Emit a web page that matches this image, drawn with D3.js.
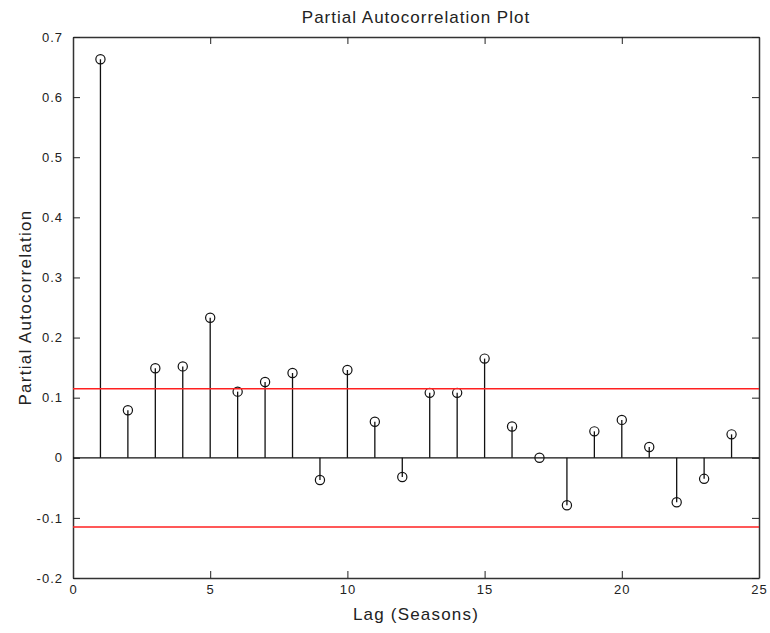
<!DOCTYPE html>
<html>
<head>
<meta charset="utf-8">
<script src="https://cdn.jsdelivr.net/npm/d3@7"></script>
<style>
	body { margin: 0; background: #fff; }
	text { font-family: "Liberation Sans", Arial, sans-serif; fill: #222; }
</style>
</head>
<body>
<svg id="svg" width="770" height="633"></svg>
<script>
"use strict";

// lags and partial autocorrelation values
const lags = d3.range(1, 25);
const pacf = [
	0.663, 0.079, 0.149, 0.152, 0.233, 0.110, 0.126, 0.141,
	-0.037, 0.146, 0.060, -0.032, 0.108, 0.108, 0.165, 0.052,
	0.000, -0.079, 0.044, 0.063, 0.018, -0.074, -0.035, 0.039
];
// confidence bounds (red lines)
const bounds = [0.115, -0.115];
const xTicks = [0, 5, 10, 15, 20, 25];
const yTicks = [-0.2, -0.1, 0, 0.1, 0.2, 0.3, 0.4, 0.5, 0.6, 0.7];

const margin = { left: 73, right: 11, top: 37, bottom: 55 };
const width = 770 - margin.left - margin.right;
const height = 633 - margin.top - margin.bottom;

const svg = d3.select("#svg");
const g = svg.append("g")
	.attr("transform", `translate(${margin.left},${margin.top})`);

const x = d3.scaleLinear().domain([0, 25]).range([0, width]);
const y = d3.scaleLinear().domain([-0.2, 0.7]).range([height, 0]);

const yFmt = (d) => (Math.abs(d) < 1e-9 ? "0" : d.toFixed(1));

// axes with inward ticks, box on all four sides
const styleAxis = (sel) => {
	sel.selectAll(".domain").attr("stroke", "#333").attr("stroke-width", 1.5);
	sel.selectAll(".tick line").attr("stroke", "#222");
	sel.selectAll("text").attr("fill", "#222").style("font-size", "13px")
		.style("letter-spacing", "1px")
		.style("font-family", "'Liberation Sans', Arial, sans-serif");
};

g.append("g")
	.attr("transform", `translate(0,${height})`)
	.call(d3.axisBottom(x).tickValues(xTicks).tickSize(-7).tickSizeOuter(0).tickPadding(7))
	.call(styleAxis);
g.append("g")
	.call(d3.axisTop(x).tickValues(xTicks).tickSize(-7).tickSizeOuter(0).tickFormat(""))
	.call(styleAxis);
g.append("g")
	.call(d3.axisLeft(y).tickValues(yTicks).tickSize(-7).tickSizeOuter(0).tickPadding(10).tickFormat(yFmt))
	.call(styleAxis);
g.append("g")
	.attr("transform", `translate(${width},0)`)
	.call(d3.axisRight(y).tickValues(yTicks).tickSize(-7).tickSizeOuter(0).tickFormat(""))
	.call(styleAxis);

// zero line
g.append("line")
	.attr("x1", 0).attr("x2", width)
	.attr("y1", y(0)).attr("y2", y(0))
	.attr("stroke", "#111").attr("stroke-width", 1.2);

// stems
g.selectAll(".stem")
	.data(lags)
	.enter()
	.append("line")
	.attr("class", "stem")
	.attr("x1", (d) => x(d)).attr("x2", (d) => x(d))
	.attr("y1", y(0))
	.attr("y2", (d, i) => y(pacf[i]))
	.attr("stroke", "#111").attr("stroke-width", 1.3);

// markers
g.selectAll(".marker")
	.data(lags)
	.enter()
	.append("circle")
	.attr("class", "marker")
	.attr("cx", (d) => x(d))
	.attr("cy", (d, i) => y(pacf[i]))
	.attr("r", 4.6)
	.attr("fill", "none")
	.attr("stroke", "#111").attr("stroke-width", 1.2);

// confidence bounds
g.selectAll(".bound")
	.data(bounds)
	.enter()
	.append("line")
	.attr("class", "bound")
	.attr("x1", 0).attr("x2", width)
	.attr("y1", (d) => y(d)).attr("y2", (d) => y(d))
	.attr("stroke", "#ff2020").attr("stroke-width", 1.5);

// titles
svg.append("text")
	.text("Partial Autocorrelation Plot")
	.attr("x", margin.left + width / 2)
	.attr("y", 23)
	.attr("text-anchor", "middle")
	.style("font-size", "17px")
	.style("letter-spacing", "1px");
svg.append("text")
	.text("Lag (Seasons)")
	.attr("x", margin.left + width / 2)
	.attr("y", 620)
	.attr("text-anchor", "middle")
	.style("font-size", "17px")
	.style("letter-spacing", "1.2px");
svg.append("text")
	.text("Partial Autocorrelation")
	.attr("transform", `translate(31,${margin.top + height / 2}) rotate(-90)`)
	.attr("text-anchor", "middle")
	.style("font-size", "17px")
	.style("letter-spacing", "1.3px");
</script>
</body>
</html>
